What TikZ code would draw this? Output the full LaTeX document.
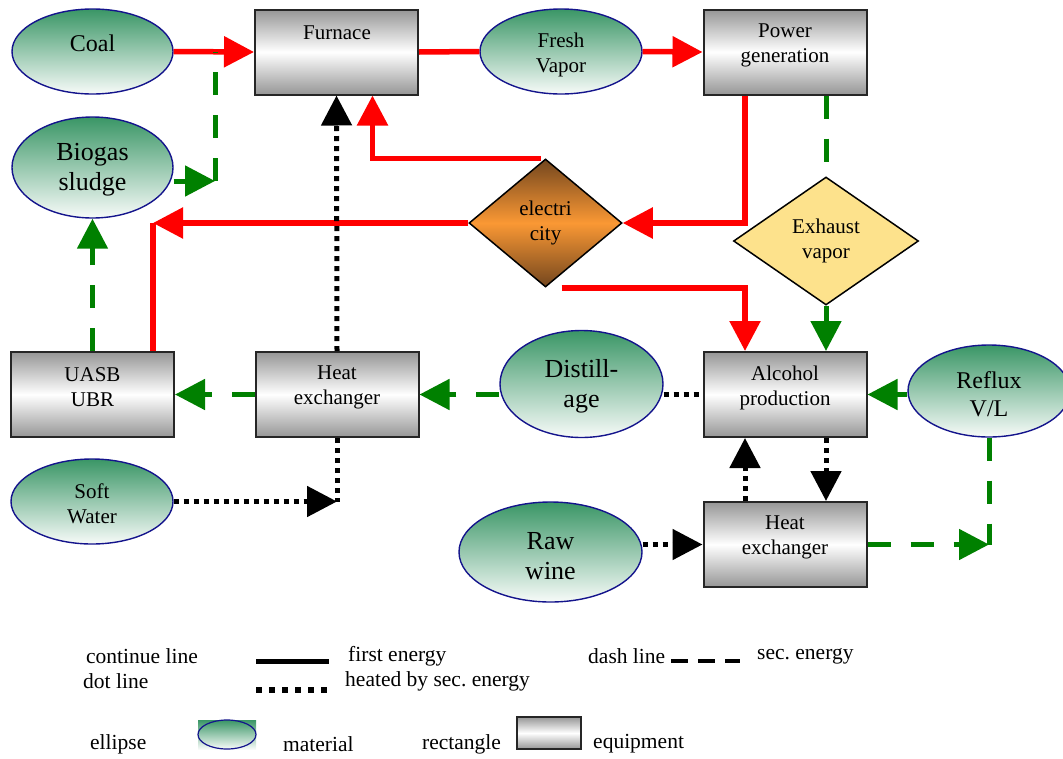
\documentclass[tikz,border=0pt]{standalone}
\usepackage{fontspec}
\setmainfont{Liberation Serif}
\frenchspacing
\usetikzlibrary{arrows.meta,shapes.geometric}
\definecolor{matgreen}{RGB}{58,150,102}
\definecolor{navyb}{RGB}{20,20,140}
\definecolor{eqgray}{RGB}{150,150,150}
\definecolor{brownd}{RGB}{115,70,30}
\definecolor{orangem}{RGB}{250,152,52}
\definecolor{exfill}{RGB}{253,226,140}
\definecolor{lgreen}{RGB}{0,128,0}
\tikzset{
  material/.style={ellipse, draw=navyb, line width=1.4pt, top color=matgreen, bottom color=white!96!matgreen, inner sep=0pt},
  equip/.style={rectangle, draw=black!85, line width=2pt, top color=eqgray, bottom color=eqgray, middle color=white, inner sep=0pt, minimum width=163pt, minimum height=85pt},
  txt/.style={align=center, inner sep=0pt, font=\fontsize{21}{25}\selectfont},
  bigtxt/.style={align=center, inner sep=0pt, font=\fontsize{26}{30}\selectfont},
  legtxt/.style={anchor=west, inner sep=0pt, font=\fontsize{21.5}{25}\selectfont},
  redline/.style={draw=red, line width=5.5pt},
  gdash/.style={draw=lgreen, line width=5pt, dash pattern=on 23pt off 20pt},
  bdot/.style={draw=black, line width=5pt, dash pattern=on 5pt off 5pt},
  tip/.style={-{Triangle[length=30pt,width=30pt]}},
}
\begin{document}
\begin{tikzpicture}[x=1pt,y=-1pt]
\useasboundingbox (0,0) rectangle (1063,758);
% equipment boxes
\node[equip] (furnace) at (336.5,52) {};
\node[equip] (power) at (785,52) {};
\node[equip] (uasb) at (92.5,394.5) {};
\node[equip] (hx1) at (337,394.5) {};
\node[equip] (alcohol) at (785,394.5) {};
\node[equip] (hx2) at (785,544.5) {};
% materials
\node[material, minimum width=161pt, minimum height=85pt] (coal) at (92.5,51.5) {};
\node[material, minimum width=162pt, minimum height=85pt] (fresh) at (561,51.5) {};
\node[material, minimum width=161pt, minimum height=101pt] (biogas) at (92.5,167.5) {};
\node[material, minimum width=162pt, minimum height=85pt] (soft) at (92,501.5) {};
\node[material, minimum width=163pt, minimum height=107pt] (distill) at (581.5,384) {};
\node[material, minimum width=183pt, minimum height=100pt] (raw) at (550.5,552) {};
\node[material, minimum width=162pt, minimum height=92pt] (reflux) at (989,391) {};
% diamonds
\node[diamond, draw=black, line width=1.5pt, top color=brownd, bottom color=brownd, middle color=orangem, minimum width=153pt, minimum height=128pt, inner sep=0pt, txt] (elec) at (545.5,223) {electri\\city};
\node[diamond, draw=black, line width=1.5pt, fill=exfill, minimum width=185pt, minimum height=128pt, inner sep=0pt, txt] (exhaust) at (826,241) {Exhaust\\vapor};
% texts
\node[txt] (tfurnace) at (337,33) {Furnace};
\node[txt] (tpower) at (785,45.5) {Power\\generation};
\node[txt] (tuasb) at (92.5,387) {UASB\\UBR};
\node[txt] (thx1) at (337,387) {Heat\\exchanger};
\node[txt] (talcohol) at (785,387.5) {Alcohol\\production};
\node[txt] (thx2) at (785,537.5) {Heat\\exchanger};
\node[txt, font=\fontsize{24}{28}\selectfont] (tcoal) at (92.5,43) {Coal};
\node[txt] (tfresh) at (561,55) {Fresh\\Vapor};
\node[bigtxt] (tbiogas) at (92.5,170) {Biogas\\sludge};
\node[txt] (tsoft) at (92,504) {Soft\\Water};
\node[bigtxt] (tdistill) at (581.5,386) {Distill-\\age};
\node[bigtxt] (traw) at (550.5,556) {Raw\\wine};
\node[txt, font=\fontsize{24}{28}\selectfont] (treflux) at (989,394) {Reflux\\V/L};
% helper coordinates
\coordinate (bj) at (215,181);
\coordinate (uasbR) at ([xshift=60.5pt]uasb.north);
\coordinate (sj) at (hx1.south |- soft.east);
\coordinate (rj) at (reflux.south |- hx2.east);
% red connectors
\draw[redline, tip] (coal.east) -- (furnace.west);
\draw[redline] (furnace.east) -- (fresh.west);
\draw[redline, tip] (fresh.east) -- (power.west);
\draw[redline, tip] ([xshift=-40pt]power.south) |- (elec.east);
\draw[redline, tip] ([xshift=-5pt]elec.north) -| ([xshift=36pt]furnace.south);
\draw[redline, tip] (elec.west) -- (elec.west -| uasbR);
\draw[redline] (elec.west -| uasbR) -- (uasbR);
\draw[redline, tip] ([xshift=16pt]elec.south) -| ([xshift=-40pt]alcohol.north);
% green connectors
\draw[gdash] (bj) -- (bj |- coal.east);
\draw[gdash, tip] ([yshift=-13.5pt]biogas.east) -- (bj);
\draw[gdash] ([xshift=41pt]power.south) -- (exhaust.north);
\draw[gdash, tip] (exhaust.south) -- ([xshift=41pt]alcohol.north);
\draw[gdash, tip] (uasb.north) -- (biogas.south);
\draw[gdash, tip] (hx1.west) -- (uasb.east);
\draw[gdash, tip] (hx1.east -| distill.west) -- (hx1.east);
\draw[gdash, tip] (alcohol.east -| reflux.west) -- (alcohol.east);
\draw[gdash] (reflux.south) -- (rj);
\draw[gdash, tip] (hx2.east) -- (rj);
% black dotted connectors
\draw[bdot, tip] (hx1.north) -- (furnace.south);
\draw[bdot] (hx1.south) -- (sj);
\draw[bdot, tip] (soft.east) -- (sj);
\draw[bdot] (alcohol.west -| distill.east) -- (alcohol.west);
\draw[bdot, tip] ([xshift=-40pt]hx2.north) -- ([xshift=-40pt]alcohol.south);
\draw[bdot, tip] ([xshift=41pt]alcohol.south) -- ([xshift=41pt]hx2.north);
\draw[bdot, tip] (hx2.west -| raw.east) -- (hx2.west);
% legend
\node[legtxt] (l1) at (86,656) {continue line};
\node[legtxt] (l2) at (348,656) {first energy};
\node[legtxt] (l3) at (588,656) {dash line};
\node[legtxt] (l4) at (757,656) {sec. energy};
\node[legtxt] (l5) at (83,681) {dot line};
\node[legtxt] (l6) at (345,681) {heated by sec. energy};
\node[legtxt] (l7) at (90,744) {ellipse};
\node[legtxt] (l8) at (283,744) {material};
\node[legtxt] (l9) at (422,744) {rectangle};
\node[legtxt] (l10) at (593,744) {equipment};
\draw[line width=5pt] (256,661) -- (329,661);
\draw[line width=6pt, dash pattern=on 6pt off 7pt] (256,690) -- (329,690);
\draw[line width=4pt, dash pattern=on 17pt off 10pt] (671,661) -- (740,661);
\node[rectangle, top color=matgreen, bottom color=white!96!matgreen, minimum width=58pt, minimum height=29pt, inner sep=0pt] (lshade) at (227,734.5) {};
\node[ellipse, draw=navyb, line width=1.2pt, minimum width=58pt, minimum height=29pt, inner sep=0pt] (lell) at (227,734.5) {};
\node[equip, minimum width=64pt, minimum height=32pt] (lrect) at (549,733) {};
\end{tikzpicture}
\end{document}
